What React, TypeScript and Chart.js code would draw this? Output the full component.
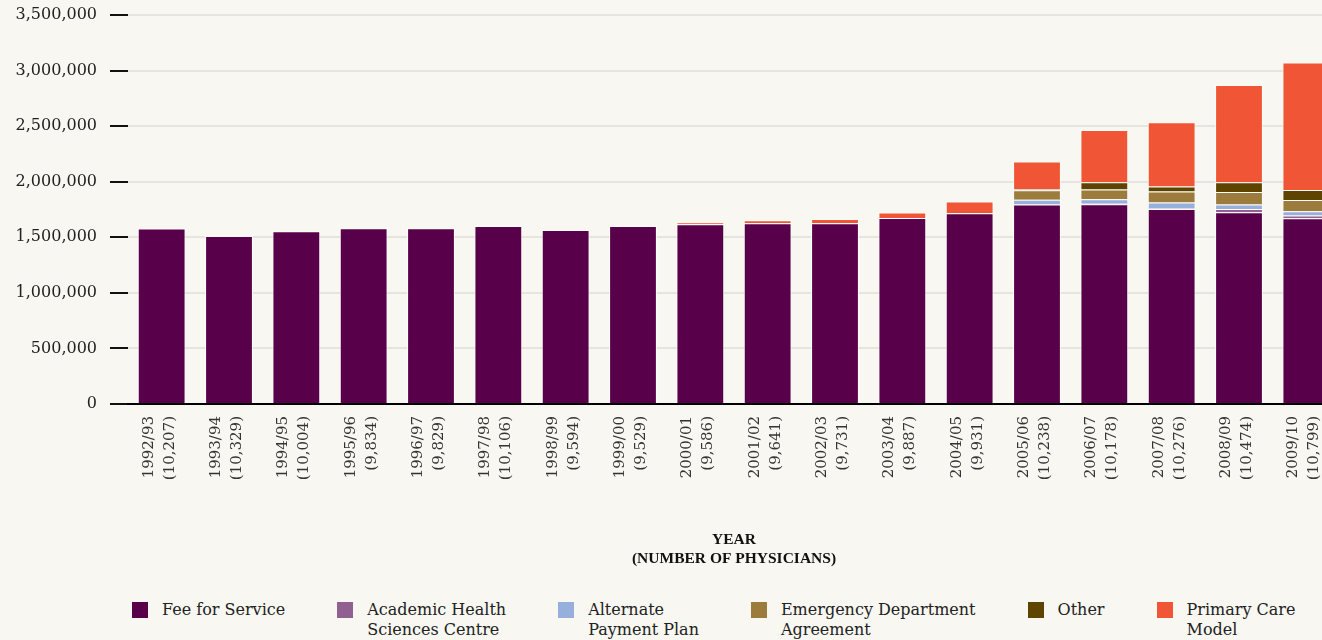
import React, { useEffect, useRef } from 'react';
import { Chart, registerables } from 'chart.js';

Chart.register(...registerables);

const years = [
  '1992/93', '1993/94', '1994/95', '1995/96', '1996/97', '1997/98', '1998/99', '1999/00', '2000/01',
  '2001/02', '2002/03', '2003/04', '2004/05', '2005/06', '2006/07', '2007/08', '2008/09', '2009/10',
];
const physicians = [
  '10,207', '10,329', '10,004', '9,834', '9,829', '10,106', '9,594', '9,529', '9,586',
  '9,641', '9,731', '9,887', '9,931', '10,238', '10,178', '10,276', '10,474', '10,799',
];

const feeForService = [
  1580000, 1512000, 1554000, 1581000, 1581000, 1602000, 1565000, 1602000, 1617000,
  1626000, 1626000, 1674000, 1716000, 1795000, 1797000, 1755000, 1725000, 1671000,
];
const academicHealth = [0, 0, 0, 0, 0, 0, 0, 0, 0, 0, 0, 0, 0, 5000, 5000, 5000, 30000, 24000];
const alternatePayment = [0, 0, 0, 0, 0, 0, 0, 0, 0, 0, 0, 0, 0, 37000, 40000, 52000, 39000, 39000];
const emergencyDept = [0, 0, 0, 0, 0, 0, 0, 0, 0, 0, 0, 0, 0, 87000, 87000, 99000, 114000, 102000];
const other = [0, 0, 0, 0, 0, 0, 0, 0, 0, 0, 0, 0, 0, 9000, 66000, 45000, 87000, 90000];
const primaryCare = [0, 0, 0, 0, 0, 0, 0, 0, 18000, 28000, 38000, 48000, 105000, 249000, 471000, 579000, 876000, 1146000];

const yMax = 3500000;
const yStep = 500000;

const seriesNames = [
  'Fee for Service',
  'Academic Health Sciences Centre',
  'Alternate Payment Plan',
  'Emergency Department Agreement',
  'Other',
  'Primary Care Model',
];
const legendLines = [
  ['Fee for Service'],
  ['Academic Health', 'Sciences Centre'],
  ['Alternate', 'Payment Plan'],
  ['Emergency Department', 'Agreement'],
  ['Other'],
  ['Primary Care', 'Model'],
];
const seriesData = [feeForService, academicHealth, alternatePayment, emergencyDept, other, primaryCare];
const seriesColors = ['#59004a', '#8f6090', '#97afdc', '#9c7c3c', '#5f4300', '#f05535'];

const BG = '#f8f7f1';
const SERIF = "'DejaVu Serif', serif";

export default function App() {
  const ref = useRef<HTMLCanvasElement>(null);

  useEffect(() => {
    if (!ref.current) return;
    const chart = new Chart(ref.current, {
      type: 'bar',
      data: {
        labels: years.map((y, i) => [y, `(${physicians[i]})`]),
        datasets: seriesNames.map((name, i) => ({
          label: name,
          data: seriesData[i],
          backgroundColor: seriesColors[i],
          borderColor: 'rgba(255,255,255,0.75)',
          borderWidth: (c: any) => (c.raw ? 1 : 0),
          barPercentage: 0.71,
          categoryPercentage: 1,
        })),
      },
      options: {
        responsive: false,
        animation: false,
        layout: { padding: 0 },
        plugins: { legend: { display: false }, tooltip: { enabled: false } },
        scales: {
          x: {
            stacked: true,
            grid: { display: false, drawTicks: false },
            border: { display: true, color: '#000', width: 2 },
            ticks: {
              autoSkip: false,
              minRotation: 90,
              maxRotation: 90,
              padding: 12,
              labelOffset: -13,
              color: '#333',
              font: { family: SERIF, size: 15, lineHeight: 1.4 },
            },
            title: {
              display: true,
              text: ['YEAR', '(NUMBER OF PHYSICIANS)'],
              color: '#111',
              font: { family: "'Liberation Serif', serif", size: 15.5, weight: 'bold', lineHeight: 1.2 },
              padding: 0,
            },
            afterFit: (s: any) => {
              s.height = 164;
              s.paddingLeft = 0;
              s.paddingRight = 0;
            },
          },
          y: {
            stacked: true,
            min: 0,
            max: yMax,
            ticks: {
              stepSize: yStep,
              padding: 13,
              color: '#222',
              font: { family: SERIF, size: 16, lineHeight: 1 },
              callback: (v: any) => Number(v).toLocaleString('en-US'),
            },
            grid: {
              color: (c: any) => (c.tick && c.tick.value === 0 ? '#000' : '#e5e4dd'),
              lineWidth: 2,
              tickColor: '#111',
              tickWidth: 2,
              tickLength: 18,
            },
            border: { display: false },
            afterFit: (s: any) => {
              s.width = 120;
              s.paddingTop = 15;
              s.paddingBottom = 0;
            },
          },
        },
      },
    } as any);
    return () => chart.destroy();
  }, []);

  return (
    <div style={{ position: 'fixed', left: 0, top: 0, width: '100vw', height: '100vh', overflow: 'hidden', background: BG }}>
      <canvas ref={ref} width={1332} height={568} style={{ position: 'absolute', left: 8, top: 0, display: 'block' }} />
      <div
        style={{
          position: 'absolute',
          left: 132,
          top: 600,
          display: 'flex',
          gap: 52,
          fontFamily: SERIF,
          fontSize: 16,
          lineHeight: '20px',
          color: '#222',
          whiteSpace: 'nowrap',
        }}
      >
        {legendLines.map((lines, i) => (
          <div key={i} style={{ display: 'flex', alignItems: 'flex-start' }}>
            <div style={{ width: 16, height: 16, marginTop: 2, marginRight: 14, background: seriesColors[i] }} />
            <div>
              {lines.map((l, j) => (
                <div key={j}>{l}</div>
              ))}
            </div>
          </div>
        ))}
      </div>
    </div>
  );
}
